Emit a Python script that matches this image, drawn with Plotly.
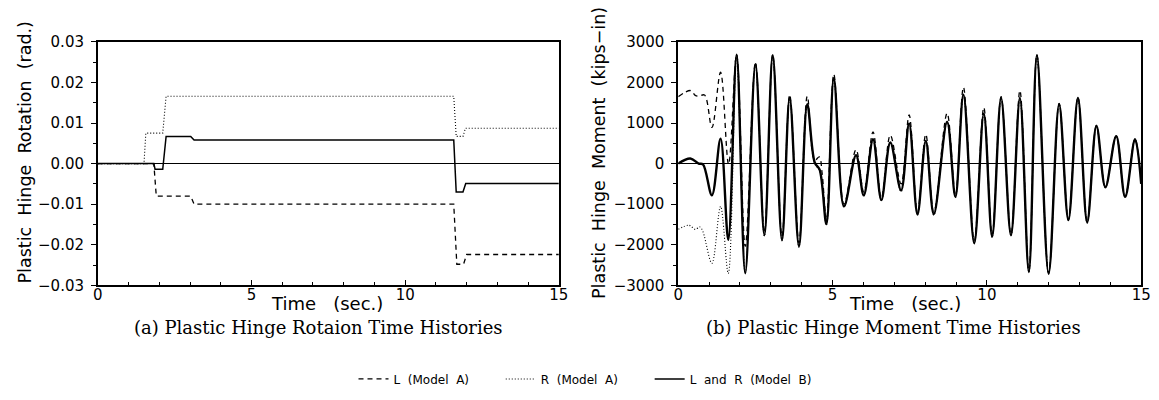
import plotly.graph_objects as go

# ---------------- data: (a) plastic hinge rotation (rad.) ----------------
rot_L_A_t = [0, 1.82, 1.90, 3.02, 3.13, 11.58, 11.68, 11.90, 12.00, 15]
rot_L_A_v = [0, 0, -0.0080, -0.0080, -0.0100, -0.0100, -0.0248, -0.0248, -0.0224, -0.0224]

rot_R_A_t = [0, 1.50, 1.56, 2.11, 2.22, 11.58, 11.66, 11.88, 11.96, 15]
rot_R_A_v = [0, 0, 0.0075, 0.0075, 0.0166, 0.0166, 0.0067, 0.0067, 0.0087, 0.0087]

rot_B_t = [0, 1.82, 1.86, 2.11, 2.22, 3.02, 3.13, 11.58, 11.66, 11.88, 11.97, 15]
rot_B_v = [0, 0, -0.0014, -0.0014, 0.0067, 0.0067, 0.0058, 0.0058, -0.0070, -0.0070, -0.0049, -0.0049]

# ---------------- data: (b) plastic hinge moment (kips-in) ----------------
mom_B_t = [0, 0.39, 0.66, 0.80, 1.09, 1.37, 1.62, 1.89, 2.17, 2.50, 2.79, 3.06, 3.36, 3.61,
           3.91, 4.18, 4.42, 4.58, 4.80, 5.04, 5.37, 5.76, 6.01, 6.31, 6.58, 6.87, 7.22,
           7.48, 7.75, 8.02, 8.28, 8.71, 8.98, 9.24, 9.59, 9.90, 10.17, 10.46, 10.78,
           11.07, 11.36, 11.62, 12.00, 12.34, 12.64, 12.95, 13.25, 13.55, 13.84, 14.19,
           14.48, 14.80, 15.00]
mom_B_v = [0, 126, 0, -20, -780, 614, -1880, 2685, -2700, 2450, -1764, 2670, -1882, 1622,
           -2040, 1465, 30, -150, -1490, 2100, -1055, 205, -780, 600, -900, 520, -660,
           990, -1250, 560, -1250, 1030, -820, 1700, -1960, 1230, -1800, 1620, -1765,
           1620, -2670, 2670, -2710, 1465, -1394, 1620, -1450, 930, -583, 677,
           -820, 600, -500]

mom_L_A_t = [0, 0.40, 0.55, 0.66, 0.85, 1.09, 1.37, 1.63, 1.89, 2.17, 2.50, 2.79, 3.06,
             3.36, 3.61, 3.91, 4.18, 4.42, 4.57, 4.66, 4.80, 5.04, 5.37, 5.76, 6.01, 6.31,
             6.58, 6.87, 7.22, 7.48, 7.75, 8.02, 8.28, 8.71, 8.98, 9.24, 9.59, 9.90, 10.17,
             10.46, 10.78, 11.07, 11.36, 11.62, 12.00, 12.34, 12.64, 12.95, 13.25, 13.55,
             13.84, 14.19, 14.48, 14.80, 15.00]
mom_L_A_v = [1650, 1800, 1680, 1660, 1690, 890, 2250, -20, 2690, -2040, 2500, -1700, 2690,
             -1800, 1700, -1950, 1660, 80, 165, -230, -1400, 2200, -1000, 345, -700, 780,
             -850, 700, -500, 1200, -1200, 720, -1200, 1240, -780, 1880, -1900, 1380, -1750,
             1650, -1740, 1800, -2650, 2680, -2700, 1480, -1380, 1630, -1440, 940,
             -575, 685, -815, 610, -500]

mom_R_A_t = [0, 0.35, 0.55, 0.70, 0.80, 1.09, 1.37, 1.62, 1.89, 2.17, 2.50, 2.79, 3.06,
             3.36, 3.61, 3.91, 4.18, 4.42, 4.58, 4.80, 5.04, 5.37, 5.76, 6.01, 6.31, 6.58,
             6.87, 7.22, 7.48, 7.75, 8.02, 8.28, 8.71, 8.98, 9.24, 9.59, 9.90, 10.17,
             10.46, 10.78, 11.07, 11.36, 11.62, 12.00, 12.34, 12.64, 12.95, 13.25, 13.55,
             13.84, 14.19, 14.48, 14.80, 15.00]
mom_R_A_v = [-1620, -1520, -1620, -1560, -1680, -2457, -1055, -2709, 2600, -2710, 2420, -1790,
             2640, -1900, 1600, -2060, 1450, 0, -170, -1510, 2080, -1070, 190, -800, 580, -920,
             500, -690, 970, -1270, 540, -1270, 1010, -840, 1680, -1980, 1210, -1820,
             1600, -1780, 1600, -2680, 2660, -2720, 1450, -1400, 1610, -1460, 920,
             -590, 670, -825, 590, -500]

x_ticks = [0, 5, 10, 15]
rot_ticks = [-0.03, -0.02, -0.01, 0.0, 0.01, 0.02, 0.03]
mom_ticks = [-3000, -2000, -1000, 0, 1000, 2000, 3000]

sp = "\u00a0\u00a0"
pad = "\u00a0" * 7
names = [f"L{sp}(Model{sp}A){pad}", f"R{sp}(Model{sp}A){pad}", f"L{sp}and{sp}R{sp}(Model{sp}B)"]

fig = go.Figure()

# left panel
fig.add_trace(go.Scatter(x=rot_L_A_t, y=rot_L_A_v, mode="lines", name=names[0], legendgroup="L",
                         line=dict(color="black", width=1.3, dash="5px,4px"), xaxis="x", yaxis="y"))
fig.add_trace(go.Scatter(x=rot_R_A_t, y=rot_R_A_v, mode="lines", name=names[1], legendgroup="R",
                         line=dict(color="black", width=1.1, dash="1px,2px"), xaxis="x", yaxis="y"))
fig.add_trace(go.Scatter(x=rot_B_t, y=rot_B_v, mode="lines", name=names[2], legendgroup="B",
                         line=dict(color="black", width=1.5), xaxis="x", yaxis="y"))

# right panel
fig.add_trace(go.Scatter(x=mom_L_A_t, y=mom_L_A_v, mode="lines", showlegend=False, legendgroup="L",
                         line=dict(color="black", width=1.3, dash="5px,4px", shape="spline"),
                         xaxis="x2", yaxis="y2"))
fig.add_trace(go.Scatter(x=mom_R_A_t, y=mom_R_A_v, mode="lines", showlegend=False, legendgroup="R",
                         line=dict(color="black", width=1.1, dash="1px,2px", shape="spline"),
                         xaxis="x2", yaxis="y2"))
fig.add_trace(go.Scatter(x=mom_B_t, y=mom_B_v, mode="lines", showlegend=False, legendgroup="B",
                         line=dict(color="black", width=2.4, shape="spline"),
                         xaxis="x2", yaxis="y2"))

W, H = 1159, 400
tick_font = dict(family="DejaVu Sans", size=15, color="black")

def xax(domain, anchor):
    return dict(domain=domain, anchor=anchor, range=[0, 15], tickvals=x_ticks,
                ticktext=[str(v) for v in x_ticks], ticks="inside", ticklen=6, tickwidth=1.3,
                tickcolor="black", minor=dict(dtick=1, ticks="inside", ticklen=4, tickcolor="black"),
                showline=True, linecolor="black", linewidth=1.5, mirror=True, showgrid=False,
                zeroline=False, tickfont=tick_font, ticklabelstandoff=-5)

def yax(domain, anchor, rng, vals, fmt, minor_step):
    return dict(domain=domain, anchor=anchor, range=rng, tickvals=vals,
                ticktext=[fmt(v) for v in vals], ticks="outside", ticklen=5, tickwidth=1.3,
                tickcolor="black", minor=dict(dtick=minor_step, ticks="outside", ticklen=3, tickcolor="black"),
                showline=True, linecolor="black", linewidth=1.8, mirror=True, showgrid=False,
                zeroline=True, zerolinecolor="black", zerolinewidth=1.2, tickfont=tick_font,
                ticklabelstandoff=4)

ydom = [1 - 281 / H, 1 - 26 / H]
fig.update_layout(
    width=W, height=H,
    margin=dict(l=0, r=0, t=0, b=0),
    paper_bgcolor="white", plot_bgcolor="white",
    xaxis=xax([86 / W, 553 / W], "y"),
    yaxis=yax(ydom, "x", [-0.03, 0.03], rot_ticks,
              lambda v: f"{v:.2f}".replace("-", "\u2212"), 0.005),
    xaxis2=xax([674 / W, 1143 / W], "y2"),
    yaxis2=yax(ydom, "x2", [-3000, 3000], mom_ticks,
               lambda v: str(v).replace("-", "\u2212"), 500),
    showlegend=True,
    legend=dict(orientation="h", x=0.5, xanchor="center", y=1 - 379 / H, yanchor="middle",
                font=dict(family="DejaVu Sans", size=12, color="black"),
                bgcolor="rgba(0,0,0,0)", tracegroupgap=0),
    font=dict(family="DejaVu Sans", color="black"),
)

sp3 = "\u00a0\u00a0\u00a0"
title_font = dict(family="DejaVu Sans", size=17.5, color="black")
xt_font = dict(family="DejaVu Sans", size=18, color="black")
cap_font = dict(family="DejaVu Serif", size=18, color="black")
ann = [
    dict(text=f"Plastic{sp}Hinge{sp}Rotation{sp}(rad.)", x=12 / W, y=1 - 142 / H, textangle=-90,
         font=title_font),
    dict(text=f"Plastic{sp}Hinge{sp}Moment{sp}(kips\u2212in)", x=593 / W, y=1 - 142 / H, textangle=-90,
         font=title_font),
    dict(text=f"Time{sp3}(sec.)", x=318 / W, y=1 - 300 / H, font=xt_font),
    dict(text=f"Time{sp3}(sec.)", x=904 / W, y=1 - 300 / H, font=xt_font),
    dict(text="(a) Plastic Hinge Rotaion Time Histories", x=310 / W, y=1 - 325 / H, font=cap_font),
    dict(text="(b) Plastic Hinge Moment Time Histories", x=892 / W, y=1 - 325 / H, font=cap_font),
]
for a in ann:
    a.update(xref="paper", yref="paper", showarrow=False, xanchor="center", yanchor="middle")
fig.update_layout(annotations=ann)

fig.write_html("out.html")
